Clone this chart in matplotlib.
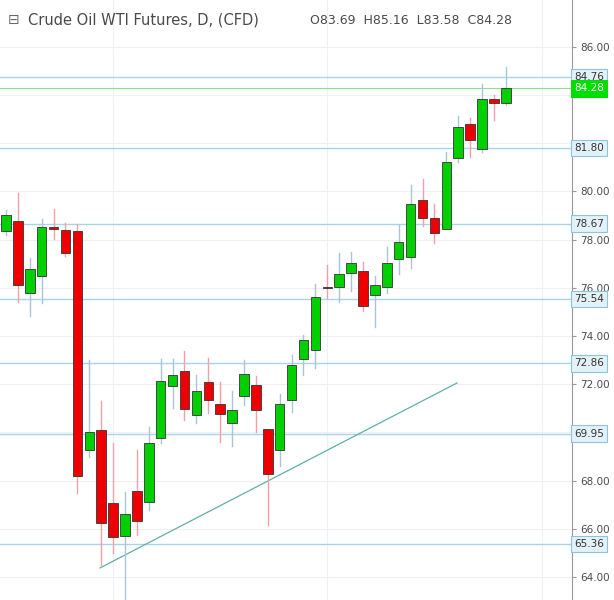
import matplotlib
matplotlib.use('Agg')
import matplotlib.pyplot as plt
from matplotlib.patches import Rectangle

# daily OHLC
opens = [78.36, 78.78, 75.79, 76.49, 78.53, 78.40, 78.36, 69.27, 70.10, 67.07,
         65.70, 67.57, 67.11, 69.77, 71.93, 72.55, 70.72, 72.09, 71.18, 70.39,
         71.51, 71.97, 70.14, 69.27, 71.35, 73.05, 73.42, 76.00, 76.04, 76.62,
         76.70, 75.71, 76.04, 77.20, 77.28, 79.65, 78.90, 78.44, 81.39, 82.80,
         81.77, 83.84, 83.69]
highs = [79.23, 79.94, 77.24, 78.86, 79.28, 78.69, 78.65, 73.01, 71.31, 69.56,
         67.53, 69.27, 70.23, 73.05, 73.05, 73.38, 72.38, 73.09, 72.09, 71.72,
         73.01, 72.34, 70.14, 71.60, 73.21, 74.04, 76.16, 76.95, 77.45, 77.49,
         77.08, 76.49, 77.70, 78.61, 80.27, 80.52, 79.48, 81.64, 83.14, 83.05,
         84.46, 84.01, 85.16]
lows = [78.20, 75.41, 74.83, 75.37, 78.03, 77.32, 67.49, 68.98, 64.50, 65.00,
        62.90, 65.74, 66.78, 69.56, 71.01, 70.52, 70.39, 70.81, 69.60, 69.44,
        71.14, 70.02, 66.16, 68.61, 70.85, 72.38, 72.67, 75.58, 75.41, 75.87,
        75.04, 74.38, 75.79, 76.58, 76.83, 78.57, 77.86, 78.44, 81.23, 81.43,
        81.64, 82.97, 83.58]
closes = [79.03, 76.12, 76.78, 78.53, 78.45, 77.45, 68.19, 70.02, 66.24, 65.66,
          66.61, 66.32, 69.56, 72.14, 72.38, 70.97, 71.72, 71.35, 70.77, 70.93,
          72.43, 70.93, 68.27, 71.18, 72.80, 73.84, 75.62, 75.98, 76.58, 77.03,
          75.25, 76.12, 77.03, 77.91, 79.48, 78.90, 78.28, 81.23, 82.68, 82.14,
          83.84, 83.68, 84.28]
levels = [84.76, 81.80, 78.67, 75.54, 72.86, 69.95, 65.36]
last_price = 84.28
trend_x = [7.9, 37.9]
trend_y = [64.37, 72.05]
yticks = [64, 66, 68, 70, 72, 74, 76, 78, 80, 82, 84, 86]

W, H = 614, 600
fig = plt.figure(figsize=(W / 100, H / 100), dpi=100)
ax = fig.add_axes([0, 0, 572 / W, 1])
ax.set_xlim(-0.5, 47.56)
ax.set_ylim(63.04, 87.95)

for t in yticks:
    ax.axhline(t, color='#eef0f3', lw=0.8, zorder=0)
for xv in [9, 27, 45]:
    ax.axvline(xv, color='#eef0f3', lw=0.8, zorder=0)

for i in range(len(opens)):
    up = closes[i] >= opens[i]
    col = '#00d000' if up else '#ee0000'
    wick = '#a9c4d8' if up else '#f0a0a8'
    ax.plot([i, i], [lows[i], highs[i]], color=wick, lw=1, zorder=2)
    lo = min(opens[i], closes[i])
    h = max(abs(closes[i] - opens[i]), 0.06)
    ax.add_patch(Rectangle((i - 0.4, lo), 0.8, h, facecolor=col,
                           edgecolor='#333333', lw=0.6, zorder=3))

for lv in levels:
    ax.axhline(lv, color='#a8d4e6', lw=1, zorder=1)
ax.axhline(last_price, color='#8ee08e', lw=0.8, zorder=1)
ax.plot(trend_x, trend_y, color='#5fb0a8', lw=0.9, zorder=1)

for s in ['top', 'left', 'bottom']:
    ax.spines[s].set_visible(False)
ax.spines['right'].set_color('#999999')
ax.set_xticks([])
ax.yaxis.tick_right()
ax.set_yticks(yticks)
# tick labels hidden behind the level boxes in the reference
marks = levels + [last_price]
ax.set_yticklabels(['' if min(abs(t - m) for m in marks) < 0.4 else '%.2f' % t
                    for t in yticks], fontsize=7.5, color='#4a4a4a')
ax.tick_params(axis='y', length=3, color='#999999', pad=3)

for lv in levels:
    ax.text(1.004, lv, '%.2f' % lv, transform=ax.get_yaxis_transform(),
            fontsize=7.5, color='#333333', va='center', ha='left', zorder=5,
            bbox=dict(boxstyle='square,pad=0.3', fc='#e3f1f8', ec='#8cc4dc', lw=0.8))
ax.text(1.004, last_price, '%.2f' % last_price, transform=ax.get_yaxis_transform(),
        fontsize=7.5, color='white', va='center', ha='left', zorder=5,
        bbox=dict(boxstyle='square,pad=0.3', fc='#00dd00', ec='#00dd00', lw=0.8))

fig.text(0.045, 0.966, 'Crude Oil WTI Futures, D, (CFD)', fontsize=10.5,
         color='#4a4a4a', va='center')
fig.text(0.505, 0.966, 'O83.69  H85.16  L83.58  C84.28', fontsize=9,
         color='#4a4a4a', va='center')
fig.text(0.012, 0.966, '\u229f', fontsize=10, color='#666666', va='center')

fig.savefig('out.png', dpi=100, facecolor='white')
